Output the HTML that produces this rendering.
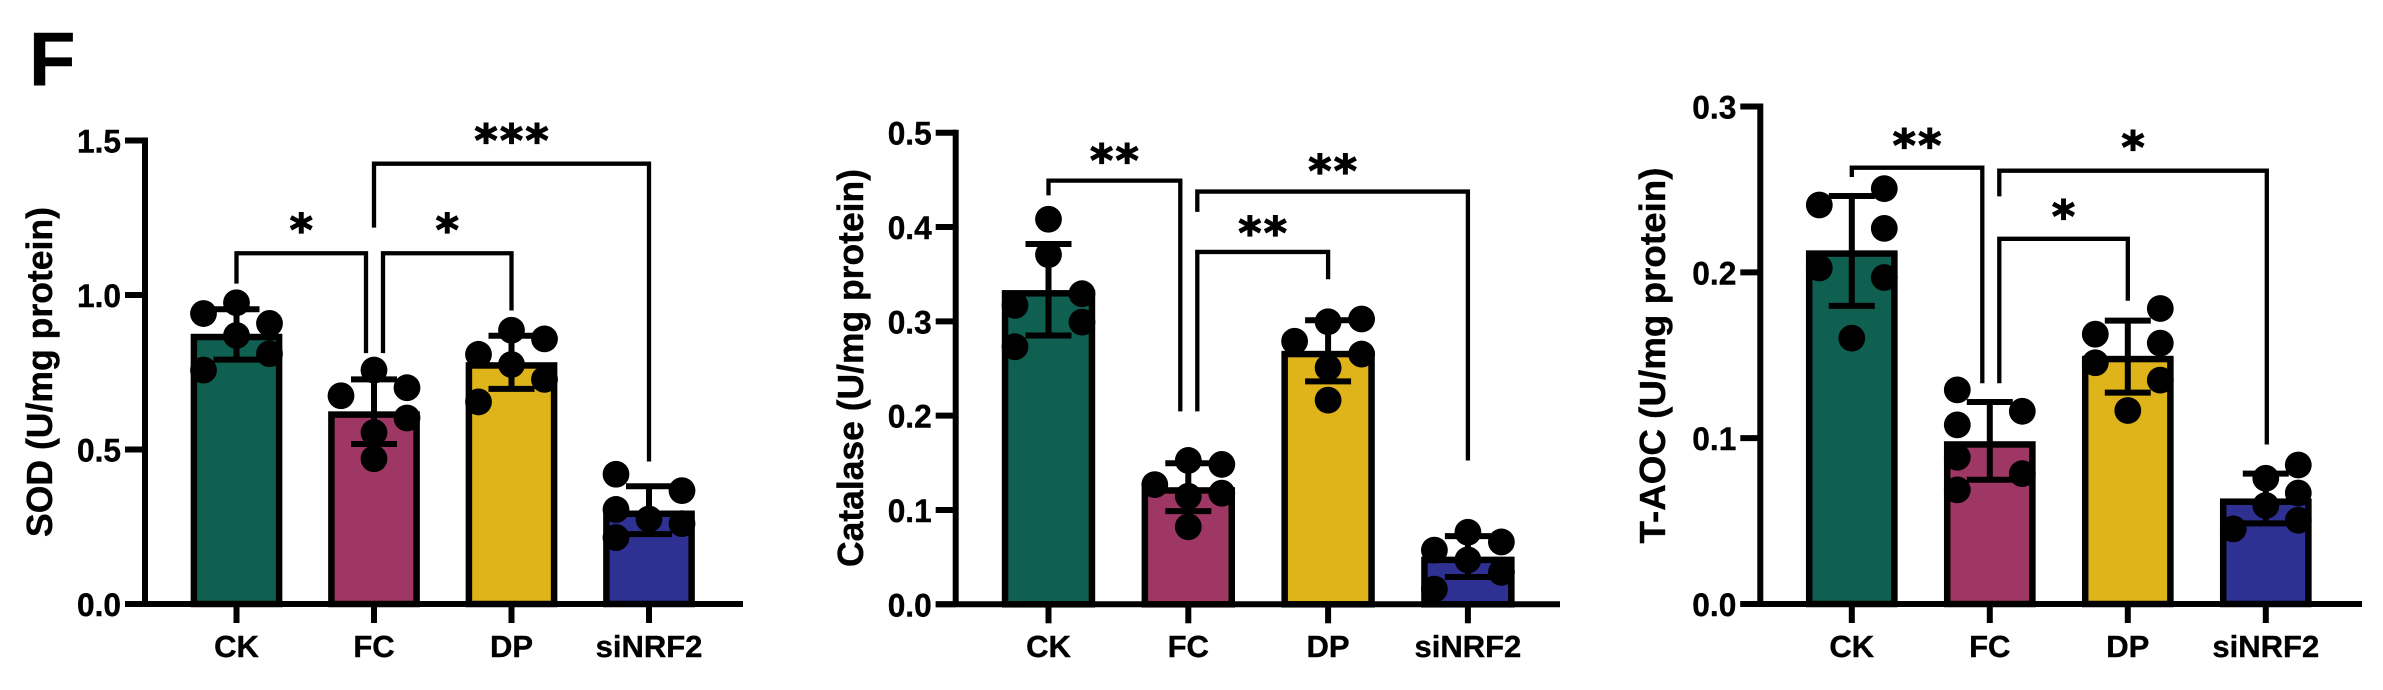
<!DOCTYPE html>
<html lang="en">
<head>
<meta charset="utf-8">
<title>Antioxidant enzyme bar charts</title>
<style>
html,body{margin:0;padding:0;background:#fff;width:2383px;height:690px;overflow:hidden}
svg{display:block}
text{font-family:"Liberation Sans",Arial,sans-serif;font-weight:700;fill:#000;stroke:#000;stroke-width:0.4px}
text.stars{font-family:"DejaVu Sans","Liberation Sans",sans-serif;font-weight:700;stroke-width:1.3px}
</style>
</head>
<body>
<svg id="figure" xmlns="http://www.w3.org/2000/svg" width="2383" height="690" viewBox="0 0 2383 690">
  <rect width="2383" height="690" fill="#fff"/>
  <text x="29" y="85" font-size="76">F</text>
</svg>
<script>
const categories = ['CK', 'FC', 'DP', 'siNRF2'];

const sodTicks = ['0.0', '0.5', '1.0', '1.5'];
const sodMeans = [0.864, 0.613, 0.772, 0.292];
const sodErrHigh = [0.954, 0.727, 0.868, 0.381];
const sodErrLow = [0.791, 0.518, 0.696, 0.226];
const sodCK = [0.94, 0.975, 0.908, 0.869, 0.81, 0.757];
const sodFC = [0.674, 0.757, 0.7, 0.555, 0.602, 0.47];
const sodDP = [0.808, 0.886, 0.858, 0.775, 0.727, 0.654];
const sodSi = [0.42, 0.367, 0.306, 0.275, 0.26, 0.215];
const sodSwarm = [[-1,0,1,0,1,-1],[-1,0,1,0,1,0],[-1,0,1,0,1,-1],[-1,1,-1,0,1,-1]];
const sodBrackets = [
  {from:0, to:1, start:1.037, level:1.135, end:0.812, stars:'*', starAt:1.235},
  {from:1, to:2, start:0.812, level:1.135, end:0.950, stars:'*', starAt:1.235},
  {from:1, to:3, start:1.218, level:1.425, end:0.461, stars:'***', starAt:1.525}
];

const catTicks = ['0.0', '0.1', '0.2', '0.3', '0.4', '0.5'];
const catMeans = [0.3297, 0.1207, 0.2653, 0.0471];
const catErrHigh = [0.382, 0.1496, 0.3012, 0.0723];
const catErrLow = [0.285, 0.0988, 0.2364, 0.0289];
const catCK = [0.4082, 0.3707, 0.3293, 0.3169, 0.2992, 0.2731];
const catFC = [0.1525, 0.1483, 0.1269, 0.1178, 0.1145, 0.0822];
const catDP = [0.2996, 0.3025, 0.2789, 0.2653, 0.2508, 0.2165];
const catSi = [0.0764, 0.0661, 0.0574, 0.0471, 0.0339, 0.0161];
const catSwarm = [[0,0,1,-1,1,-1],[0,1,-1,1,0,0],[0,1,-1,1,0,0],[0,1,-1,0,1,-1]];
const catBrackets = [
  {from:0, to:1, start:0.4335, level:0.4492, end:0.2045, stars:'**', starAt:0.4785},
  {from:1, to:3, start:0.4161, level:0.4376, end:0.1525, stars:'**', starAt:0.4673},
  {from:1, to:2, start:0.2045, level:0.3736, end:0.3446, stars:'**', starAt:0.4016}
];

const aocTicks = ['0.0', '0.1', '0.2', '0.3'];
const aocMeans = [0.2113, 0.0962, 0.1477, 0.0617];
const aocErrHigh = [0.246, 0.1218, 0.1709, 0.0786];
const aocErrLow = [0.1798, 0.0749, 0.1275, 0.0486];
const aocCK = [0.2406, 0.2505, 0.2265, 0.2026, 0.1969, 0.1603];
const aocFC = [0.1291, 0.1162, 0.108, 0.0885, 0.0786, 0.0688];
const aocDP = [0.1627, 0.1782, 0.1573, 0.1455, 0.135, 0.1167];
const aocSi = [0.0758, 0.0838, 0.0669, 0.0594, 0.0505, 0.0453];
const aocSwarm = [[-1,1,1,-1,1,0],[-1,1,-1,-1,1,-1],[-1,1,1,-1,1,0],[0,1,1,0,1,-1]];
const aocBrackets = [
  {from:0, to:1, start:0.2575, level:0.2631, end:0.1331, stars:'**', starAt:0.281},
  {from:1, to:3, start:0.2458, level:0.2613, end:0.0962, stars:'*', starAt:0.2798},
  {from:1, to:2, start:0.1331, level:0.2202, end:0.1829, stars:'*', starAt:0.2383}
];

const barColors = ['#0f6050', '#9e3764', '#dfb41b', '#2e3192'];
const NS = 'http://www.w3.org/2000/svg';
const svg = document.getElementById('figure');

function mk(parent, tag, attrs, txt) {
  const el = document.createElementNS(NS, tag);
  for (const k in attrs) el.setAttribute(k, attrs[k]);
  if (txt !== undefined) el.textContent = txt;
  parent.appendChild(el);
  return el;
}

function drawPanel(p) {
  const g = mk(svg, 'g', {});
  
  
  const topVal = parseFloat(p.ticks[p.ticks.length - 1]);
  const Y = v => p.y0 - (v / topVal) * (p.y0 - p.yTop);
  const X = i => p.x0 + i * p.step;
  const bs = 6.5;
  const bw = p.barOuter - bs;

  p.means.forEach((m, i) => {
    const bar = mk(g, 'rect', {x: X(i) - bw / 2, y: Y(m), width: bw, height: p.y0 - Y(m), fill: barColors[i], stroke: '#000', 'stroke-width': bs});
    
    
  });

  p.points.forEach((series, i) => {
    series.forEach((v, j) => {
      const dot = mk(g, 'circle', {cx: X(i) + p.swarm[i][j] * p.swarmStep, cy: Y(v), r: 13.4, fill: '#000'});
      
      
    });
  });

  p.means.forEach((m, i) => {
    const d = 'M' + X(i) + ' ' + Y(p.errHigh[i]) + 'V' + Y(p.errLow[i]) +
      'M' + (X(i) - 23) + ' ' + Y(p.errHigh[i]) + 'H' + (X(i) + 23) +
      'M' + (X(i) - 23) + ' ' + Y(p.errLow[i]) + 'H' + (X(i) + 23);
    const err = mk(g, 'path', {d: d, fill: 'none', stroke: '#000', 'stroke-width': 6});
    
    
  });

  const axis = mk(g, 'path', {d: 'M' + p.xAxis + ' ' + (p.yTop - 3) + 'V' + (p.y0 + 3) + 'M' + (p.xAxis - 20) + ' ' + p.y0 + 'H' + p.xEnd, fill: 'none', stroke: '#000', 'stroke-width': 6});
  
  

  p.ticks.forEach(t => {
    const v = parseFloat(t);
    const tick = mk(g, 'line', {x1: p.xAxis - 20, x2: p.xAxis, y1: Y(v), y2: Y(v), stroke: '#000', 'stroke-width': 6});
    
    
    const lab = mk(g, 'text', {x: p.xAxis - 24, y: Y(v) + 12, 'font-size': 32, 'text-anchor': 'end', textLength: 44, lengthAdjust: 'spacingAndGlyphs'}, t);
    
    
  });

  categories.forEach((c, i) => {
    const tick = mk(g, 'line', {x1: X(i), x2: X(i), y1: p.y0, y2: p.y0 + 19, stroke: '#000', 'stroke-width': 6});
    
    
    const lab = mk(g, 'text', {x: X(i), y: 657, 'font-size': 31, 'text-anchor': 'middle'}, c);
    
    
  });

  p.brackets.forEach((b, i) => {
    const xa = X(b.from) + p.nudgeFrom[i];
    const xb = X(b.to) + p.nudgeTo[i];
    const br = mk(g, 'path', {d: 'M' + xa + ' ' + Y(b.start) + 'V' + Y(b.level) + 'H' + xb + 'V' + Y(b.end), fill: 'none', stroke: '#000', 'stroke-width': 4.3});
    
    
    const st = mk(g, 'text', {class: 'stars', x: (xa + xb) / 2 + 1.25, y: Y(b.starAt) + 22.5, 'font-size': 44, 'letter-spacing': 2.5, 'text-anchor': 'middle'}, b.stars);
    
    
  });

  const title = mk(g, 'text', {transform: 'translate(' + p.titleX + ' ' + p.titleMid + ') rotate(-90)', 'font-size': 36, 'text-anchor': 'middle', textLength: p.titleLen, lengthAdjust: 'spacingAndGlyphs'}, p.title);
  
  
}

drawPanel({id:'sod', title:'SOD (U/mg protein)', ticks:sodTicks, means:sodMeans, errHigh:sodErrHigh, errLow:sodErrLow,
  points:[sodCK, sodFC, sodDP, sodSi], swarm:sodSwarm, brackets:sodBrackets,
  nudgeFrom:[0, 9, 0], nudgeTo:[-8, 0, 0], swarmStep:33, barOuter:91.7,
  xAxis:145, xEnd:743, x0:236.5, step:137.5, y0:604, yTop:140.5, titleX:52, titleMid:372, titleLen:330});

drawPanel({id:'catalase', title:'Catalase (U/mg protein)', ticks:catTicks, means:catMeans, errHigh:catErrHigh, errLow:catErrLow,
  points:[catCK, catFC, catDP, catSi], swarm:catSwarm, brackets:catBrackets,
  nudgeFrom:[0, 9, 9], nudgeTo:[-8, 0, 0], swarmStep:33.5, barOuter:93.4,
  xAxis:955.7, xEnd:1560, x0:1048.5, step:139.8, y0:604.3, yTop:132.7, titleX:863, titleMid:368, titleLen:398});

drawPanel({id:'t-aoc', title:'T-AOC (U/mg protein)', ticks:aocTicks, means:aocMeans, errHigh:aocErrHigh, errLow:aocErrLow,
  points:[aocCK, aocFC, aocDP, aocSi], swarm:aocSwarm, brackets:aocBrackets,
  nudgeFrom:[0, 9.5, 9.5], nudgeTo:[-7.5, 1, 0], swarmStep:32.5, barOuter:91.7,
  xAxis:1760.3, xEnd:2362, x0:1851.8, step:138, y0:604, yTop:106.5, titleX:1665, titleMid:355.5, titleLen:376});
</script>
</body>
</html>
